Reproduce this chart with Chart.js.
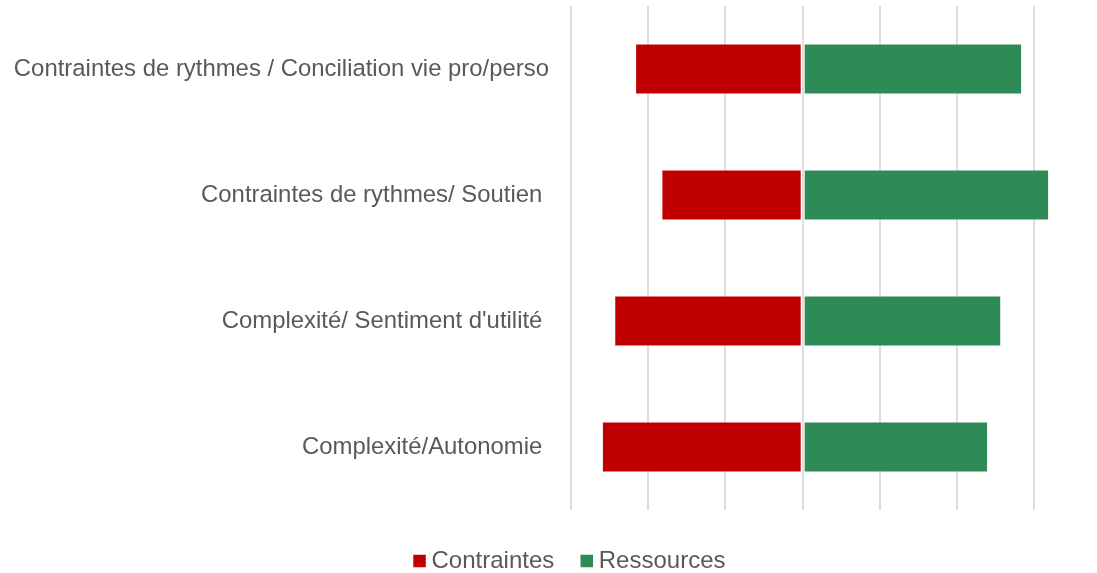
<!DOCTYPE html>
<html>
<head>
<meta charset="utf-8">
<script src="https://cdn.jsdelivr.net/npm/chart.js@4"></script>
<style>
  html, body { margin: 0; padding: 0; background: #ffffff; overflow: hidden; }
  #wrap { width: 1097px; height: 573px; position: relative; }
</style>
</head>
<body>
<div id="wrap"><canvas id="chart"></canvas></div>
<script>
// Category labels (some carry a trailing space, as typed in the source sheet)
const categories = [
  "Contraintes de rythmes / Conciliation vie pro/perso",
  "Contraintes de rythmes/ Soutien ",
  "Complexité/ Sentiment d'utilité ",
  "Complexité/Autonomie "
];
// Constraint scores (drawn to the left of zero) and resource scores (to the right)
const contraintes = [-2.17, -1.83, -2.44, -2.60];
const ressources  = [2.84, 3.19, 2.57, 2.40];
const seriesNames = ["Contraintes", "Ressources"];

const TEXT = "#595959";
const FONT = "'Liberation Sans', Arial, sans-serif";

// Nudges the bottom legend so it sits centred under the plot rather than the page
const legendShift = {
  id: "legendShift",
  afterLayout(chart) {
    const lg = chart.legend;
    if (!lg) return;
    lg.left += 24; lg.right += 24;
    lg.top += 6.5; lg.bottom += 6.5;
  }
};

new Chart(document.getElementById("chart"), {
  type: "bar",
  data: {
    labels: categories,
    datasets: [
      {
        label: seriesNames[0],
        data: contraintes,
        backgroundColor: "#C00000",
        borderColor: "rgba(255,255,255,0.4)",
        borderWidth: 1,
        borderSkipped: false,
        categoryPercentage: 1,
        barPercentage: 0.405
      },
      {
        label: seriesNames[1],
        data: ressources,
        backgroundColor: "#2E8B57",
        borderColor: "rgba(255,255,255,0.4)",
        borderWidth: 1,
        borderSkipped: false,
        categoryPercentage: 1,
        barPercentage: 0.405
      }
    ]
  },
  options: {
    indexAxis: "y",
    responsive: true,
    maintainAspectRatio: false,
    animation: false,
    layout: { padding: { top: 6, left: 0, right: 0, bottom: -3.5 } },
    scales: {
      x: {
        stacked: true,
        min: -3,
        max: 3.81,
        border: { display: false },
        ticks: { display: false, stepSize: 1 },
        grid: {
          drawTicks: false,
          lineWidth: 2,
          color: (ctx) => (ctx.tick && Number.isInteger(ctx.tick.value)) ? "#dedede" : "rgba(0,0,0,0)"
        },
        afterFit(scale) { scale.height = 0; }
      },
      y: {
        stacked: true,
        border: { display: false },
        grid: { display: false, drawTicks: false },
        ticks: {
          color: TEXT,
          padding: 22,
          font: { family: FONT, size: 23.9 }
        },
        afterFit(scale) {
          scale.width = 571;
          scale.paddingTop = 0;
          scale.paddingBottom = 0;
        }
      }
    },
    plugins: {
      tooltip: { enabled: false },
      legend: {
        position: "bottom",
        labels: {
          color: TEXT,
          font: { family: FONT, size: 24 },
          usePointStyle: true,
          boxWidth: 0.01,
          boxHeight: 12.5,
          padding: 32.5,
          generateLabels(chart) {
            return Chart.defaults.plugins.legend.labels.generateLabels(chart)
              .map((item) => Object.assign(item, { pointStyle: "rect", lineWidth: 0 }));
          }
        }
      }
    }
  },
  plugins: [legendShift]
});
</script>
</body>
</html>
